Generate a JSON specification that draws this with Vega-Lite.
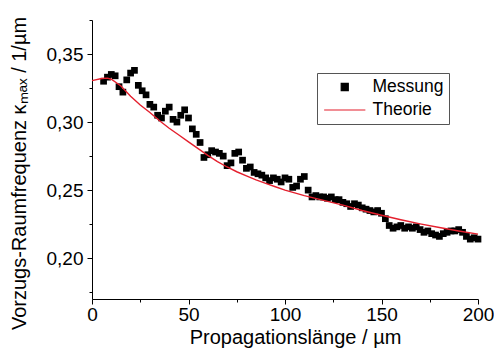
{
  "$schema": "https://vega.github.io/schema/vega-lite/v6.json",
  "width": 386,
  "height": 279,
  "autosize": "none",
  "padding": {"left": 92, "top": 20, "right": 16, "bottom": 55},
  "background": "white",
  "config": {
    "view": {"stroke": null},
    "font": "Liberation Sans",
    "axis": {
      "grid": false,
      "domainColor": "black",
      "tickColor": "black",
      "labelColor": "black",
      "titleColor": "black",
      "labelFont": "Liberation Sans",
      "titleFont": "Liberation Sans",
      "labelFontSize": 19,
      "titleFontSize": 20,
      "titleFontWeight": "normal",
      "domainWidth": 1,
      "tickWidth": 1
    }
  },
  "datasets": {
    "mess": [
      {"x": 6, "y": 0.330, "series": "Messung"},
      {"x": 8, "y": 0.333, "series": "Messung"},
      {"x": 10, "y": 0.335, "series": "Messung"},
      {"x": 12, "y": 0.334, "series": "Messung"},
      {"x": 14, "y": 0.326, "series": "Messung"},
      {"x": 16, "y": 0.322, "series": "Messung"},
      {"x": 18, "y": 0.331, "series": "Messung"},
      {"x": 20, "y": 0.336, "series": "Messung"},
      {"x": 22, "y": 0.338, "series": "Messung"},
      {"x": 24, "y": 0.327, "series": "Messung"},
      {"x": 26, "y": 0.323, "series": "Messung"},
      {"x": 28, "y": 0.320, "series": "Messung"},
      {"x": 30, "y": 0.313, "series": "Messung"},
      {"x": 32, "y": 0.311, "series": "Messung"},
      {"x": 34, "y": 0.305, "series": "Messung"},
      {"x": 36, "y": 0.303, "series": "Messung"},
      {"x": 38, "y": 0.308, "series": "Messung"},
      {"x": 40, "y": 0.311, "series": "Messung"},
      {"x": 42, "y": 0.302, "series": "Messung"},
      {"x": 44, "y": 0.300, "series": "Messung"},
      {"x": 46, "y": 0.305, "series": "Messung"},
      {"x": 48, "y": 0.309, "series": "Messung"},
      {"x": 50, "y": 0.303, "series": "Messung"},
      {"x": 52, "y": 0.295, "series": "Messung"},
      {"x": 54, "y": 0.291, "series": "Messung"},
      {"x": 56, "y": 0.285, "series": "Messung"},
      {"x": 58, "y": 0.274, "series": "Messung"},
      {"x": 60, "y": 0.276, "series": "Messung"},
      {"x": 62, "y": 0.279, "series": "Messung"},
      {"x": 64, "y": 0.278, "series": "Messung"},
      {"x": 66, "y": 0.277, "series": "Messung"},
      {"x": 68, "y": 0.275, "series": "Messung"},
      {"x": 70, "y": 0.268, "series": "Messung"},
      {"x": 72, "y": 0.270, "series": "Messung"},
      {"x": 74, "y": 0.277, "series": "Messung"},
      {"x": 76, "y": 0.278, "series": "Messung"},
      {"x": 78, "y": 0.272, "series": "Messung"},
      {"x": 80, "y": 0.266, "series": "Messung"},
      {"x": 82, "y": 0.267, "series": "Messung"},
      {"x": 84, "y": 0.263, "series": "Messung"},
      {"x": 86, "y": 0.262, "series": "Messung"},
      {"x": 88, "y": 0.261, "series": "Messung"},
      {"x": 90, "y": 0.259, "series": "Messung"},
      {"x": 92, "y": 0.257, "series": "Messung"},
      {"x": 94, "y": 0.259, "series": "Messung"},
      {"x": 96, "y": 0.258, "series": "Messung"},
      {"x": 98, "y": 0.256, "series": "Messung"},
      {"x": 100, "y": 0.259, "series": "Messung"},
      {"x": 102, "y": 0.258, "series": "Messung"},
      {"x": 104, "y": 0.252, "series": "Messung"},
      {"x": 106, "y": 0.253, "series": "Messung"},
      {"x": 108, "y": 0.258, "series": "Messung"},
      {"x": 110, "y": 0.260, "series": "Messung"},
      {"x": 112, "y": 0.250, "series": "Messung"},
      {"x": 114, "y": 0.245, "series": "Messung"},
      {"x": 116, "y": 0.246, "series": "Messung"},
      {"x": 118, "y": 0.245, "series": "Messung"},
      {"x": 120, "y": 0.245, "series": "Messung"},
      {"x": 122, "y": 0.244, "series": "Messung"},
      {"x": 124, "y": 0.245, "series": "Messung"},
      {"x": 126, "y": 0.243, "series": "Messung"},
      {"x": 128, "y": 0.243, "series": "Messung"},
      {"x": 130, "y": 0.241, "series": "Messung"},
      {"x": 132, "y": 0.240, "series": "Messung"},
      {"x": 134, "y": 0.238, "series": "Messung"},
      {"x": 136, "y": 0.240, "series": "Messung"},
      {"x": 138, "y": 0.239, "series": "Messung"},
      {"x": 140, "y": 0.237, "series": "Messung"},
      {"x": 142, "y": 0.236, "series": "Messung"},
      {"x": 144, "y": 0.235, "series": "Messung"},
      {"x": 146, "y": 0.234, "series": "Messung"},
      {"x": 148, "y": 0.235, "series": "Messung"},
      {"x": 150, "y": 0.233, "series": "Messung"},
      {"x": 152, "y": 0.229, "series": "Messung"},
      {"x": 154, "y": 0.224, "series": "Messung"},
      {"x": 156, "y": 0.222, "series": "Messung"},
      {"x": 158, "y": 0.223, "series": "Messung"},
      {"x": 160, "y": 0.224, "series": "Messung"},
      {"x": 162, "y": 0.222, "series": "Messung"},
      {"x": 164, "y": 0.223, "series": "Messung"},
      {"x": 166, "y": 0.222, "series": "Messung"},
      {"x": 168, "y": 0.223, "series": "Messung"},
      {"x": 170, "y": 0.221, "series": "Messung"},
      {"x": 172, "y": 0.219, "series": "Messung"},
      {"x": 174, "y": 0.220, "series": "Messung"},
      {"x": 176, "y": 0.218, "series": "Messung"},
      {"x": 178, "y": 0.217, "series": "Messung"},
      {"x": 180, "y": 0.216, "series": "Messung"},
      {"x": 182, "y": 0.218, "series": "Messung"},
      {"x": 184, "y": 0.219, "series": "Messung"},
      {"x": 186, "y": 0.220, "series": "Messung"},
      {"x": 188, "y": 0.220, "series": "Messung"},
      {"x": 190, "y": 0.221, "series": "Messung"},
      {"x": 192, "y": 0.219, "series": "Messung"},
      {"x": 194, "y": 0.216, "series": "Messung"},
      {"x": 196, "y": 0.214, "series": "Messung"},
      {"x": 198, "y": 0.215, "series": "Messung"},
      {"x": 200, "y": 0.214, "series": "Messung"}
    ],
    "theo": [
      {"x": 0, "y": 0.3305, "series": "Theorie"},
      {"x": 5, "y": 0.3320, "series": "Theorie"},
      {"x": 8, "y": 0.3323, "series": "Theorie"},
      {"x": 10, "y": 0.3315, "series": "Theorie"},
      {"x": 15, "y": 0.3265, "series": "Theorie"},
      {"x": 20, "y": 0.3190, "series": "Theorie"},
      {"x": 25, "y": 0.3125, "series": "Theorie"},
      {"x": 30, "y": 0.3070, "series": "Theorie"},
      {"x": 35, "y": 0.3010, "series": "Theorie"},
      {"x": 40, "y": 0.2955, "series": "Theorie"},
      {"x": 45, "y": 0.2905, "series": "Theorie"},
      {"x": 50, "y": 0.2855, "series": "Theorie"},
      {"x": 55, "y": 0.2805, "series": "Theorie"},
      {"x": 60, "y": 0.2755, "series": "Theorie"},
      {"x": 65, "y": 0.2710, "series": "Theorie"},
      {"x": 70, "y": 0.2670, "series": "Theorie"},
      {"x": 75, "y": 0.2635, "series": "Theorie"},
      {"x": 80, "y": 0.2605, "series": "Theorie"},
      {"x": 85, "y": 0.2575, "series": "Theorie"},
      {"x": 90, "y": 0.2550, "series": "Theorie"},
      {"x": 95, "y": 0.2525, "series": "Theorie"},
      {"x": 100, "y": 0.2500, "series": "Theorie"},
      {"x": 110, "y": 0.2460, "series": "Theorie"},
      {"x": 120, "y": 0.2425, "series": "Theorie"},
      {"x": 130, "y": 0.2390, "series": "Theorie"},
      {"x": 140, "y": 0.2350, "series": "Theorie"},
      {"x": 150, "y": 0.2315, "series": "Theorie"},
      {"x": 160, "y": 0.2282, "series": "Theorie"},
      {"x": 170, "y": 0.2252, "series": "Theorie"},
      {"x": 180, "y": 0.2225, "series": "Theorie"},
      {"x": 190, "y": 0.2200, "series": "Theorie"},
      {"x": 200, "y": 0.2177, "series": "Theorie"}
    ]
  },
  "encoding": {
    "x": {
      "field": "x",
      "type": "quantitative",
      "scale": {"domain": [0, 200], "nice": false, "zero": false},
      "axis": {
        "values": [0, 25, 50, 75, 100, 125, 150, 175, 200],
        "labelExpr": "datum.value % 50 == 0 ? datum.label : ''",
        "tickSize": {"condition": {"test": "datum.value % 50 != 0", "value": 3}, "value": 5},
        "labelPadding": 1,
        "labelFlush": false,
        "title": "Propagationslänge / µm",
        "titleX": 203,
        "titlePadding": 3
      }
    },
    "y": {
      "field": "y",
      "type": "quantitative",
      "scale": {"domain": [0.17, 0.375], "nice": false, "zero": false},
      "axis": {
        "values": [0.175, 0.2, 0.225, 0.25, 0.275, 0.3, 0.325, 0.35, 0.375],
        "labelExpr": "round(datum.value * 200) % 2 == 1 ? '' : replace(format(datum.value, '.2f'), '.', ',')",
        "tickSize": {"condition": {"test": "round(datum.value * 200) % 2 == 1", "value": 3}, "value": 5},
        "labelPadding": 4,
        "labelFlush": false,
        "title": "Vorzugs-Raumfrequenz κₘₐₓ / 1/µm",
        "titleY": 153,
        "titlePadding": 17
      }
    },
    "color": {
      "field": "series",
      "type": "nominal",
      "scale": {"domain": ["Messung", "Theorie"], "range": ["black", "#e41f2d"]},
      "legend": {
        "title": null,
        "orient": "none",
        "legendX": 225,
        "legendY": 53,
        "strokeColor": "#555555",
        "padding": 5,
        "labelFont": "Liberation Sans",
        "labelFontSize": 17.5,
        "labelColor": "black",
        "symbolSize": 1600,
        "clipHeight": 18,
        "symbolOffset": 14,
        "labelOffset": 19,
        "rowPadding": 5,
        "encode": {
          "symbols": {
            "update": {
              "shape": {"signal": "datum.value === 'Theorie' ? 'stroke' : 'square'"},
              "size": {"signal": "datum.value === 'Theorie' ? 1700 : 50"},
              "fill": {"signal": "datum.value === 'Theorie' ? 'transparent' : 'black'"},
              "stroke": {"signal": "datum.value === 'Theorie' ? '#e41f2d' : 'transparent'"},
              "strokeWidth": {"signal": "1.2"}
            }
          }
        }
      }
    }
  },
  "layer": [
    {
      "data": {"name": "mess"},
      "mark": {"type": "point", "shape": "square", "filled": true, "size": 45, "opacity": 1}
    },
    {
      "data": {"name": "theo"},
      "mark": {"type": "line", "strokeWidth": 1.4}
    }
  ]
}
